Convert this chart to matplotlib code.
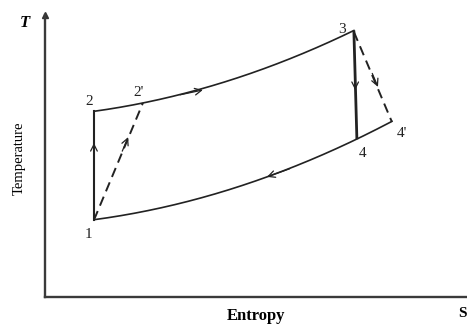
import matplotlib
matplotlib.use("Agg")
import matplotlib.pyplot as plt
import numpy as np

# Read-off values (arbitrary entropy / temperature units, 0-10 scale)
upper_s = [1.16, 2.32, 3.74, 4.62, 5.81, 6.68, 7.32]   # 2 -> 3 (heat addition)
upper_T = [6.60, 6.88, 7.34, 7.80, 8.51, 9.04, 9.40]
lower_s = [1.16, 2.65, 4.22, 5.26, 6.21, 7.39, 8.22]   # 1 -> 4 -> 4' (heat rejection)
lower_T = [2.73, 3.16, 3.72, 4.26, 4.79, 5.64, 6.21]

state_names = ["1", "2", "2'", "3", "4", "4'"]
state_s = [1.16, 1.16, 2.32, 7.32, 7.39, 8.22]
state_T = [2.73, 6.60, 6.88, 9.40, 5.64, 6.21]
label_s = [1.02, 1.04, 2.22, 7.04, 7.52, 8.45]
label_T = [2.20, 6.92, 7.24, 9.50, 5.10, 5.80]

pt = dict(zip(state_names, zip(state_s, state_T)))

fig = plt.figure(figsize=(4.67, 3.25), dpi=100)
ax = fig.add_axes([45/467, 28/325, 422/467, 282/325])
ax.set_xlim(0, 10)
ax.set_ylim(0, 10)
for sp in ["top", "right"]:
    ax.spines[sp].set_visible(False)
for sp in ["left", "bottom"]:
    ax.spines[sp].set_linewidth(1.7)
    ax.spines[sp].set_color("#3a3a3a")
ax.set_xticks([])
ax.set_yticks([])
ax.plot([0], [10], marker="^", color="#333333", markersize=4, clip_on=False)

lc = "#222222"

def smooth(xs, ys):
    c = np.polyfit(xs, ys, 2)
    xx = np.linspace(xs[0], xs[-1], 200)
    return xx, np.polyval(c, xx)

ax.plot(*smooth(upper_s, upper_T), color=lc, lw=1.2)
ax.plot(*smooth(lower_s, lower_T), color=lc, lw=1.2)
# 1-2 isentropic, 3-4 isentropic
ax.plot([pt["1"][0], pt["2"][0]], [pt["1"][1], pt["2"][1]], color=lc, lw=1.5)
ax.plot([pt["3"][0], pt["4"][0]], [pt["3"][1], pt["4"][1]], color=lc, lw=2.0)
# actual processes (dashed)
ax.plot([pt["1"][0], pt["2'"][0]], [pt["1"][1], pt["2'"][1]], color=lc, lw=1.4, ls=(0, (5, 3)))
ax.plot([pt["3"][0], pt["4'"][0]], [pt["3"][1], pt["4'"][1]], color=lc, lw=1.4, ls=(0, (5, 3)))

def arrow(head, tail):
    ax.annotate("", xy=head, xytext=tail,
                arrowprops=dict(arrowstyle="->", color=lc, lw=0.9, mutation_scale=12,
                                shrinkA=0, shrinkB=0))

arrow((3.74, 7.34), (3.20, 7.17))
arrow((5.26, 4.26), (5.80, 4.55))
arrow((1.16, 5.46), (1.16, 5.00))
d = np.array(pt["2'"]) - np.array(pt["1"])
h = np.array([1.97, 5.67])
arrow(tuple(h), tuple(h - 0.12 * d))
arrow((7.35, 7.34), (7.35, 7.85))
d2 = np.array(pt["4'"]) - np.array(pt["3"])
h2 = np.array([7.89, 7.45])
arrow(tuple(h2), tuple(h2 - 0.15 * d2))

serif = "Liberation Serif"
for n, s, T in zip(state_names, label_s, label_T):
    ax.text(s, T, n, family=serif, fontsize=11, ha="center", va="center", color="#222222")

ax.text(-0.47, 9.70, "T", family=serif, fontsize=12, style="italic", weight="bold",
        ha="center", va="center", clip_on=False)
ax.text(-0.60, 4.91, "Temperature", family=serif, fontsize=10.5, rotation=90,
        ha="center", va="center", clip_on=False)
ax.text(5.0, -0.68, "Entropy", family=serif, fontsize=12, weight="bold",
        ha="center", va="center", clip_on=False)
ax.text(9.99, -0.57, "S", family=serif, fontsize=11, weight="bold",
        ha="right", va="center", clip_on=False)

fig.savefig("out.png", dpi=100)
